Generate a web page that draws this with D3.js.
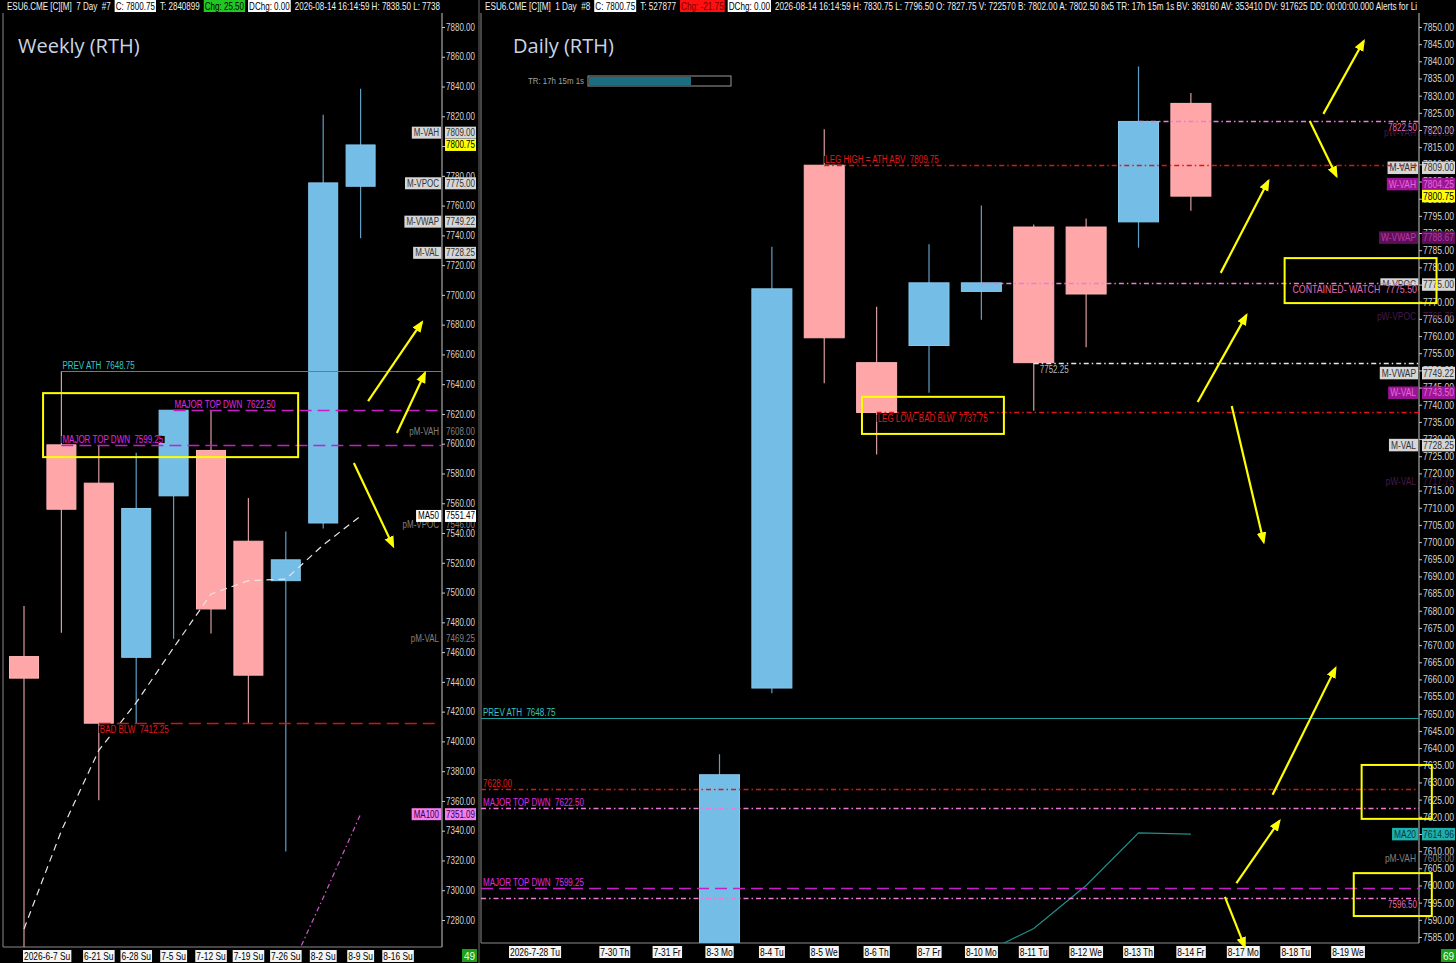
<!DOCTYPE html>
<html>
<head>
<meta charset="utf-8">
<script src="https://cdn.jsdelivr.net/npm/d3@7"></script>
<style>
html, body { margin: 0; padding: 0; background: #000; }
svg { display: block; }
text { font-family: "Liberation Sans", Arial, sans-serif; white-space: pre; }
</style>
</head>
<body>
<script>
// ---------- weekly data ----------
const weekDates = ["2026-6-7 Su", "6-14 Su", "6-21 Su", "6-28 Su", "7-5 Su", "7-12 Su", "7-19 Su", "7-26 Su", "8-2 Su", "8-9 Su", "8-16 Su"];
const weekLabelShown = [true, false, true, true, true, true, true, true, true, true, true];
const weekOpen  = [7457.00, 7599.25, 7573.50, 7456.50, 7565.00, 7595.50, 7534.50, 7508.00, 7546.75, 7773.00, null];
const weekHigh  = [7491.00, 7648.75, 7599.00, 7594.00, 7622.50, 7622.50, 7563.50, 7541.00, 7821.00, 7838.50, null];
const weekLow   = [7250.00, 7473.00, 7360.50, 7412.25, 7469.00, 7472.50, 7412.25, 7326.00, 7543.00, 7738.00, null];
const weekClose = [7442.50, 7556.00, 7412.25, 7556.50, 7622.50, 7489.00, 7444.50, 7522.00, 7775.25, 7800.75, null];
const weekMA50  = [7274, 7340, 7394, 7426, 7463, 7499, 7508, 7509, 7532, 7551.47, null];
const weekMA100 = [null, null, null, null, null, null, null, 7240, 7295, 7351.09, null];

const weekLevelText  = ["PREV ATH  7648.75", "MAJOR TOP DWN  7622.50", "MAJOR TOP DWN  7599.25", "BAD BLW  7412.25"];
const weekLevelPrice = [7648.75, 7622.50, 7599.25, 7412.25];
const weekLevelFrom  = [1, 4, 1, 2];
const weekLevelKind  = ["teal", "magdash", "magdash", "reddash"];
const weekLevelSide  = ["above", "above", "above", "below"];

const weekTagNames  = ["M-VAH", "", "M-VPOC", "M-VWAP", "M-VAL", "pM-VAH", "pM-VPOC", "MA50", "pM-VAL", "MA100"];
const weekTagValues = [7809.00, 7800.75, 7775.00, 7749.22, 7728.25, 7608.00, 7546.00, 7551.47, 7469.25, 7351.09];

// arrows [fromBar, fromPrice, toBar, toPrice]
const weekArrows = [[9.20, 7628.7, 10.64, 7681.7], [9.97, 7607.2, 10.72, 7647.5], [8.82, 7587.0, 9.87, 7531.2]];
const weekBoxes = [[0.51, 7634.0, 7.33, 7591.0]];

// ---------- daily data ----------
const dayDates = ["2026-7-28 Tu", "7-29 We", "7-30 Th", "7-31 Fr", "8-3 Mo", "8-4 Tu", "8-5 We", "8-6 Th", "8-7 Fr", "8-10 Mo", "8-11 Tu", "8-12 We", "8-13 Th", "8-14 Fr", "8-17 Mo", "8-18 Tu", "8-19 We"];
const dayLabelShown = [true, false, true, true, true, true, true, true, true, true, true, true, true, true, true, true, true];
const dayOpen  = [null, null, null, null, 7548.00, 7657.50, 7809.75, 7752.25, 7757.25, 7773.00, 7791.75, 7791.75, 7793.25, 7827.75, null, null, null];
const dayHigh  = [null, null, null, null, 7638.25, 7786.00, 7820.25, 7768.50, 7786.75, 7798.00, 7792.50, 7794.25, 7838.50, 7830.75, null, null, null];
const dayLow   = [null, null, null, null, 7540.00, 7656.00, 7746.25, 7725.50, 7743.50, 7764.75, 7738.25, 7756.75, 7785.75, 7796.50, null, null, null];
const dayClose = [null, null, null, null, 7632.25, 7773.75, 7759.50, 7737.75, 7775.50, 7775.50, 7752.25, 7772.25, 7822.50, 7800.75, null, null, null];
const dayMA20  = [null, null, null, null, null, null, null, null, null, 7580.0, 7587.5, 7600.0, 7615.3, 7614.96, null, null, null];

const dayLevelText  = ["LEG HIGH = ATH ABV  7809.75", "7822.50", "CONTAINED- WATCH  7775.50", "7752.25", "LEG LOW- BAD BLW  7737.75",
                       "PREV ATH  7648.75", "7628.00", "MAJOR TOP DWN  7622.50", "MAJOR TOP DWN  7599.25", "7596.50"];
const dayLevelPrice = [7809.75, 7822.50, 7775.50, 7752.25, 7737.75, 7648.75, 7628.00, 7622.50, 7599.25, 7596.50];
const dayLevelFrom  = [6, 12, 9, 10, 7, null, null, null, null, null];
const dayLevelKind  = ["reddot", "pinkdot", "pinkdot", "whitedot", "reddot", "teal", "reddot", "pinkdot", "magdash", "pinkdot"];
const dayLevelSide  = ["above", "below", "below", "below", "below", "above", "above", "above", "above", "below"];
const dayLevelAlign = ["start", "end", "end", "start", "start", "start", "start", "start", "start", "end"];

const dayTagNames  = ["pW-VAH", "pW-VPOC", "pW-VAL", "M-VAH", "W-VAH", "", "W-VWAP", "M-VPOC", "M-VWAP", "W-VAL", "M-VAL", "MA20", "pM-VAH"];
const dayTagValues = [7819.25, 7765.75, 7717.75, 7809.00, 7804.25, 7800.75, 7788.67, 7775.00, 7749.22, 7743.50, 7728.25, 7614.96, 7608.00];

const dayArrows = [
  [15.53, 7824.7, 16.30, 7845.9], [15.27, 7822.6, 15.78, 7806.6], [13.57, 7778.4, 14.48, 7805.2],
  [13.13, 7740.8, 14.06, 7766.1], [13.78, 7739.6, 14.39, 7700.0], [14.56, 7626.4, 15.76, 7663.3],
  [13.87, 7600.7, 14.69, 7618.8], [13.65, 7596.7, 14.03, 7582.1]
];
const dayBoxes = [[6.72, 7742.3, 9.43, 7731.5], [14.79, 7782.7, 17.69, 7769.6], [16.26, 7635.1, 17.60, 7619.4], [16.11, 7603.6, 17.60, 7591.1]];

const weekHeader = [
  ["ESU6.CME [C][M]  7 Day  #7", "plain"], ["C: 7800.75", "white"], ["T: 2840899", "plain"], ["Chg: 25.50", "green"],
  ["DChg: 0.00", "white"], ["2026-08-14 16:14:59 H: 7838.50 L: 7738", "plain"]
];
const dayHeader = [
  ["ESU6.CME [C][M]  1 Day  #8", "plain"], ["C: 7800.75", "white"], ["T: 527877", "plain"], ["Chg: -21.75", "red"],
  ["DChg: 0.00", "white"],
  ["2026-08-14 16:14:59 H: 7830.75 L: 7796.50 O: 7827.75 V: 722570 B: 7802.00 A: 7802.50 8x5 TR: 17h 15m 1s BV: 369160 AV: 353410 DV: 917625 DD: 00:00:00.000 Alerts for Li", "plain"]
];

// ---------- styles ----------
const UP = "#74bde6", UP_WICK = "#5f9fc6", DOWN = "#ffa6a9", DOWN_WICK = "#d99c9c";
const NARROW = 0.8;
const lineStyle = {
  teal:     { stroke: "#1f9c9c", dash: null, text: "#35c6c6" },
  magdash:  { stroke: "#c81ec8", dash: "12,6", text: "#e02ae0" },
  reddash:  { stroke: "#d01515", dash: "12,6", text: "#e01818" },
  reddot:   { stroke: "#e01515", dash: "5,3,1.5,3", text: "#e01818" },
  pinkdot:  { stroke: "#ec7ad6", dash: "5,3,1.5,3", text: "#e66ab0" },
  whitedot: { stroke: "#e8e8e8", dash: "5,3,1.5,3", text: "#b8b8b8" }
};
const tagStyle = {
  light:  { bg: "#d6d6d6", fg: "#333" },
  white:  { bg: "#ffffff", fg: "#000" },
  yellow: { bg: "#ffff00", fg: "#000" },
  gray:   { bg: null, fg: "#808080" },
  mag:    { bg: "#f07ef0", fg: "#3a003a" },
  purple: { bg: "#9c1596", fg: "#e36bd6" },
  dpurple:{ bg: "#5e0f58", fg: "#b63aa8" },
  dim:    { bg: null, fg: "#4a1846" },
  teal:   { bg: "#1fb0b0", fg: "#063838" }
};
function tagKind(name) {
  if (name === "") return "yellow";
  if (name === "MA50") return "white";
  if (name === "MA100") return "mag";
  if (name === "MA20") return "teal";
  if (name === "W-VWAP") return "dpurple";
  if (name.startsWith("W-")) return "purple";
  if (name.startsWith("pW-")) return "dim";
  if (name.startsWith("pM-")) return "gray";
  return "light";
}
const headStyle = {
  plain: { bg: null, fg: "#f0f0f0" },
  white: { bg: "#ffffff", fg: "#000" },
  green: { bg: "#22c822", fg: "#000" },
  red:   { bg: "#ff1010", fg: "#7a0000" }
};

// squeeze a text node horizontally (to mimic the condensed chart font)
function squeeze(node, k, target) {
  const w = node.getComputedTextLength();
  node.setAttribute("textLength", target != null ? target : w * k);
  node.setAttribute("lengthAdjust", "spacingAndGlyphs");
}

const W = 1456, H = 963;
const svg = d3.select("body").append("svg").attr("width", W).attr("height", H).style("background", "#000");

const defs = svg.append("defs");
defs.append("marker").attr("id", "arrowHead").attr("viewBox", "0 0 10 10").attr("refX", 8).attr("refY", 5)
  .attr("markerWidth", 5.5).attr("markerHeight", 5.5).attr("orient", "auto-start-reverse")
  .append("path").attr("d", "M0,1 L10,5 L0,9 Z").attr("fill", "#ffff00");

function panel(cfg) {
  const { left, right, top, bottom, x, y, open, high, low, close, bodyW } = cfg;
  const root = svg.append("g");
  const clipId = "clip" + left;
  defs.append("clipPath").attr("id", clipId).append("rect")
    .attr("x", left).attr("y", top).attr("width", right - left).attr("height", bottom - top);

  // frame
  root.append("line").attr("x1", left).attr("x2", left).attr("y1", top).attr("y2", bottom).attr("stroke", "#8a8a8a");
  root.append("line").attr("x1", left).attr("x2", right).attr("y1", bottom).attr("y2", bottom).attr("stroke", "#8a8a8a");

  // y axis
  const axis = root.append("g").attr("transform", `translate(${right},0)`)
    .call(d3.axisRight(y).tickValues(cfg.ticks).tickFormat(d3.format(".2f")).tickSize(3).tickPadding(1));
  axis.select(".domain").attr("stroke", "#c8c8c8").attr("d", `M0,${top}V${bottom}`);
  axis.selectAll(".tick line").attr("stroke", "#c8c8c8");
  axis.selectAll(".tick text").attr("fill", "#d4d4d4").attr("font-size", cfg.tickFont)
    .style("font-family", '"Liberation Sans",Arial,sans-serif')
    .each(function () { squeeze(this, 0, cfg.valW - 3); });

  const plot = root.append("g").attr("clip-path", `url(#${clipId})`);
  const idx = open.map((d, i) => i).filter(i => open[i] != null);

  // candles
  plot.append("g").selectAll("line").data(idx).join("line")
    .attr("x1", i => x(i)).attr("x2", i => x(i))
    .attr("y1", i => y(high[i])).attr("y2", i => y(low[i]))
    .attr("stroke", i => close[i] >= open[i] ? UP_WICK : DOWN_WICK).attr("stroke-width", 1.2);
  plot.append("g").selectAll("rect").data(idx).join("rect")
    .attr("x", i => x(i) - bodyW / 2).attr("width", bodyW)
    .attr("y", i => y(Math.max(open[i], close[i])))
    .attr("height", i => Math.max(2, Math.abs(y(open[i]) - y(close[i]))))
    .attr("fill", i => close[i] >= open[i] ? UP : DOWN)
    .attr("stroke", i => close[i] >= open[i] ? "#86c8ec" : "#ffb4b6").attr("stroke-width", 1);

  // moving averages
  cfg.mas.forEach(ma => {
    const line = d3.line().defined(d => d != null).x((d, i) => x(i)).y(d => y(d));
    plot.append("path").datum(ma.values).attr("d", line).attr("fill", "none")
      .attr("stroke", ma.color).attr("stroke-width", ma.width || 1.2)
      .attr("stroke-dasharray", ma.dash || null);
  });

  // tags on the price axis
  const tg = root.append("g");
  cfg.tags.names.forEach((name, k) => {
    const st = tagStyle[tagKind(name)];
    const yc = y(cfg.tags.values[k]);
    const fs = cfg.tickFont;
    const h = fs + 2;
    if (st.bg) tg.append("rect").attr("x", right + 3).attr("y", yc - h / 2).attr("width", cfg.valW - 1).attr("height", h).attr("fill", st.bg);
    const v = tg.append("text").attr("x", right + 4).attr("y", yc).attr("dy", "0.35em").attr("font-size", fs)
      .attr("fill", st.fg).text(cfg.tags.values[k].toFixed(2));
    squeeze(v.node(), 0, cfg.valW - 3);
    if (name) {
      const t = tg.append("text").attr("x", right - 3).attr("y", yc).attr("dy", "0.35em").attr("text-anchor", "end")
        .attr("font-size", fs).attr("fill", st.fg).text(name);
      squeeze(t.node(), NARROW);
      if (st.bg) {
        const bb = t.node().getBBox();
        tg.insert("rect", () => t.node()).attr("x", bb.x - 2).attr("y", yc - h / 2).attr("width", bb.width + 4)
          .attr("height", h).attr("fill", st.bg);
      }
    }
  });

  // level lines
  const lv = root.append("g").attr("clip-path", `url(#${clipId})`);
  const lvText = root.append("g");
  cfg.levels.price.forEach((p, k) => {
    const st = lineStyle[cfg.levels.kind[k]];
    const label = cfg.levels.text[k];
    const x0 = cfg.levels.from[k] == null ? left : x(cfg.levels.from[k]);
    const yy = Math.round(y(p)) + 0.5;
    lv.append("line").attr("x1", x0).attr("x2", right).attr("y1", yy).attr("y2", yy)
      .attr("stroke", st.stroke).attr("stroke-width", st.dash ? 1.3 : 1)
      .attr("stroke-dasharray", st.dash);
    const align = cfg.levels.align ? cfg.levels.align[k] : "start";
    const tx = align === "end" ? right - 2 : (cfg.levels.from[k] == null ? left + 2 : x0 + (cfg.levels.kind[k] === "whitedot" ? 6 : 1));
    const ty = yy + (cfg.levels.side[k] === "above" ? -6 : 6);
    const color = label.startsWith("MAJOR") ? "#e02ae0" : st.text;
    const t = lvText.append("text").attr("x", tx).attr("y", ty).attr("dy", "0.35em")
      .attr("text-anchor", align).attr("font-size", label.startsWith("CONTAINED") ? 11 : 10)
      .attr("fill", color).text(label);
    squeeze(t.node(), NARROW);
    const bb = t.node().getBBox();
    lvText.insert("rect", () => t.node()).attr("x", bb.x - 1).attr("y", bb.y + 2).attr("width", bb.width + 2)
      .attr("height", bb.height - 4).attr("fill", "#000");
  });

  // date labels
  const xl = root.append("g");
  cfg.dates.forEach((d, i) => {
    if (!cfg.shown[i]) return;
    const t = xl.append("text").attr("x", x(i)).attr("y", cfg.dateY).attr("dy", "0.35em")
      .attr("text-anchor", i === 0 ? "start" : "middle").attr("font-size", 10.5).attr("fill", "#000").text(d);
    squeeze(t.node(), NARROW);
    const bb = t.node().getBBox();
    xl.insert("rect", () => t.node()).attr("x", bb.x - 1).attr("y", cfg.dateY - 6).attr("width", bb.width + 2)
      .attr("height", 12).attr("fill", "#f4f4f4");
  });

  // yellow boxes and arrows
  const an = root.append("g");
  cfg.boxes.forEach(b => {
    an.append("rect").attr("x", x(b[0])).attr("y", y(b[1])).attr("width", x(b[2]) - x(b[0])).attr("height", y(b[3]) - y(b[1]))
      .attr("fill", "none").attr("stroke", "#ffff00").attr("stroke-width", 2);
  });
  cfg.arrows.forEach(a => {
    an.append("line").attr("x1", x(a[0])).attr("y1", y(a[1])).attr("x2", x(a[2])).attr("y2", y(a[3]))
      .attr("stroke", "#ffff00").attr("stroke-width", 2.2).attr("marker-end", "url(#arrowHead)");
  });

  // header: fitted into the width of the panel
  const hd = svg.append("g");
  const nodes = cfg.header.map(([txt, kind]) =>
    hd.append("text").attr("y", 6).attr("dy", "0.35em").attr("font-size", cfg.headFont)
      .attr("fill", headStyle[kind].fg).text(txt));
  const widths = nodes.map(n => n.node().getComputedTextLength());
  const gap = 3;
  const scale = (cfg.headRight - left - 4 - gap * (nodes.length - 1) - 2 * nodes.length) / d3.sum(widths);
  let hx = left + 3;
  nodes.forEach((n, k) => {
    const w = widths[k] * scale;
    const st = headStyle[cfg.header[k][1]];
    n.attr("x", hx + 1);
    squeeze(n.node(), 0, w);
    if (st.bg) hd.insert("rect", () => n.node()).attr("x", hx).attr("y", 0).attr("width", w + 2).attr("height", 12).attr("fill", st.bg);
    hx += w + 2 + gap;
  });

  // title
  svg.append("text").attr("x", cfg.titleX).attr("y", 53).attr("font-size", 20).attr("fill", "#cbd4e6")
    .style("font-family", '"Open Sans","Noto Sans",sans-serif').text(cfg.title);

  // counter box
  svg.append("rect").attr("x", cfg.countX).attr("y", 949).attr("width", 15).attr("height", 13).attr("fill", "#1aa01a");
  svg.append("text").attr("x", cfg.countX + 7.5).attr("y", 956).attr("dy", "0.35em").attr("text-anchor", "middle")
    .attr("font-size", 10).attr("fill", "#e8ffe8").text(cfg.count);
}

// weekly panel
const wx = d3.scaleLinear().domain([0, 10]).range([24, 398]);
const wy = d3.scaleLinear().domain([7280, 7880]).range([920, 27]);
panel({
  left: 3, right: 442, top: 13, bottom: 947, x: wx, y: wy,
  open: weekOpen, high: weekHigh, low: weekLow, close: weekClose, bodyW: 29,
  ticks: d3.range(7280, 7881, 20), tickFont: 10, valW: 32,
  mas: [
    { values: weekMA50, color: "#e6e6e6", dash: "7,5", width: 1.2 },
    { values: weekMA100, color: "#d455d4", dash: "5,3,1.5,3", width: 1.2 }
  ],
  levels: { price: weekLevelPrice, text: weekLevelText, from: weekLevelFrom, kind: weekLevelKind, side: weekLevelSide },
  tags: { names: weekTagNames, values: weekTagValues },
  dates: weekDates, shown: weekLabelShown, dateY: 956,
  boxes: weekBoxes, arrows: weekArrows,
  header: weekHeader, headFont: 11, headRight: 442,
  title: "Weekly (RTH)", titleX: 18, count: "49", countX: 462
});

// daily panel
const dx = d3.scaleLinear().domain([0, 16]).range([510, 1348]);
const dy = d3.scaleLinear().domain([7585, 7850]).range([937, 27]);
panel({
  left: 481, right: 1419, top: 13, bottom: 943, x: dx, y: dy,
  open: dayOpen, high: dayHigh, low: dayLow, close: dayClose, bodyW: 40,
  ticks: d3.range(7585, 7851, 5), tickFont: 10.5, valW: 34,
  mas: [{ values: dayMA20, color: "#1f8f8a", width: 1.2 }],
  levels: { price: dayLevelPrice, text: dayLevelText, from: dayLevelFrom, kind: dayLevelKind, side: dayLevelSide, align: dayLevelAlign },
  tags: { names: dayTagNames, values: dayTagValues },
  dates: dayDates, shown: dayLabelShown, dateY: 952,
  boxes: dayBoxes, arrows: dayArrows,
  header: dayHeader, headFont: 10.5, headRight: 1419,
  title: "Daily (RTH)", titleX: 513, count: "69", countX: 1441
});

// divider between the two charts
svg.append("line").attr("x1", 479).attr("x2", 479).attr("y1", 0).attr("y2", H).attr("stroke", "#6a6a6a");

// trading-time progress bar
const tr = svg.append("text").attr("x", 528).attr("y", 81).attr("dy", "0.35em").attr("font-size", 9).attr("fill", "#a0a0a0").text("TR: 17h 15m 1s");
squeeze(tr.node(), 0, 56);
svg.append("rect").attr("x", 588).attr("y", 76).attr("width", 143).attr("height", 10).attr("fill", "#000").attr("stroke", "#9a9a9a");
svg.append("rect").attr("x", 589).attr("y", 77).attr("width", 102).attr("height", 8).attr("fill", "#1b6e80");
</script>
</body>
</html>
